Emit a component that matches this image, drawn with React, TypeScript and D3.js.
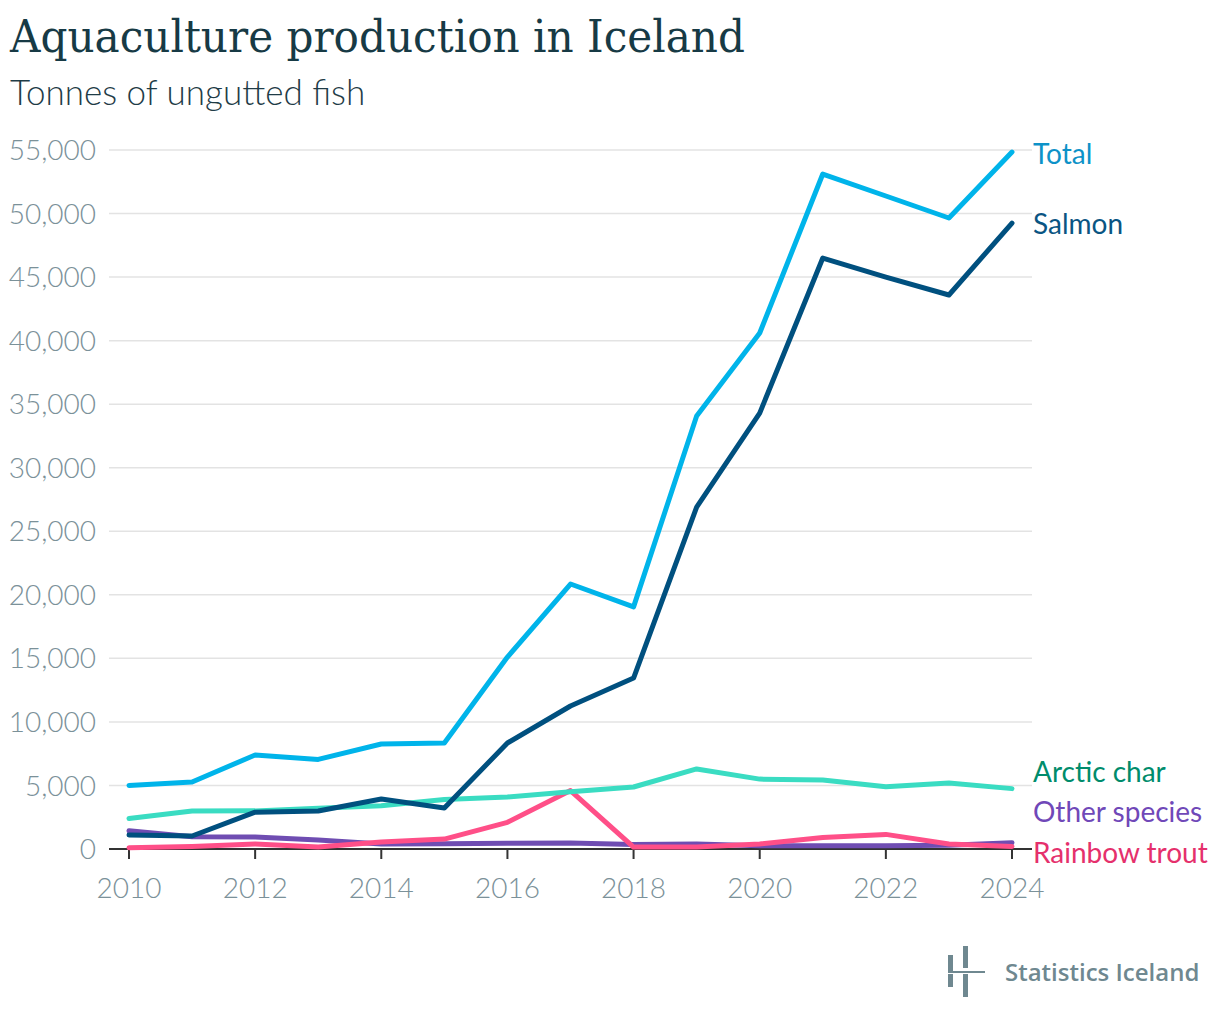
import { useEffect, useRef } from 'react';
import * as d3 from 'd3';

const YEARS = [2010, 2011, 2012, 2013, 2014, 2015, 2016, 2017, 2018, 2019, 2020, 2021, 2022, 2023, 2024];

const TOTAL = [5000, 5270, 7400, 7050, 8260, 8340, 15100, 20850, 19050, 34070, 40600, 53110, 51380, 49650, 54840];
const SALMON = [1100, 1020, 2900, 2990, 3930, 3230, 8340, 11250, 13450, 26900, 34300, 46500, 45000, 43590, 49250];
const ARCTIC_CHAR = [2400, 2990, 3000, 3200, 3400, 3900, 4090, 4500, 4880, 6300, 5500, 5430, 4900, 5200, 4750];
const OTHER_SPECIES = [1440, 970, 940, 700, 390, 420, 450, 470, 350, 390, 250, 250, 260, 300, 500];
const RAINBOW_TROUT = [100, 200, 400, 150, 550, 780, 2100, 4600, 150, 150, 400, 900, 1150, 400, 200];

const Y_TICKS = [0, 5000, 10000, 15000, 20000, 25000, 30000, 35000, 40000, 45000, 50000, 55000];
const X_TICKS = [2010, 2012, 2014, 2016, 2018, 2020, 2022, 2024];

const SERIES = [
  { name: 'Other species', values: OTHER_SPECIES, color: '#6f4db2', labelColor: '#7048b8', labelY: 812 },
  { name: 'Rainbow trout', values: RAINBOW_TROUT, color: '#ff4f88', labelColor: '#e5306c', labelY: 853 },
  { name: 'Arctic char', values: ARCTIC_CHAR, color: '#3adcc2', labelColor: '#008c6c', labelY: 772 },
  { name: 'Salmon', values: SALMON, color: '#00507f', labelColor: '#0a5583', labelY: 224 },
  { name: 'Total', values: TOTAL, color: '#00b4ea', labelColor: '#0d92c8', labelY: 154 },
];

export default function App() {
  const svgRef = useRef<SVGSVGElement>(null);

  useEffect(() => {
    if (!svgRef.current) return;
    const width = 1220;
    const height = 1022;
    const svg = d3.select(svgRef.current);
    svg.selectAll('*').remove();
    svg.attr('viewBox', `0 0 ${width} ${height}`);

    const x = d3.scaleLinear().domain([2010, 2024]).range([129, 1012]);
    const y = d3.scaleLinear().domain([0, 55000]).range([849, 150]);

    // title
    svg.append('text')
      .attr('x', 10).attr('y', 52)
      .attr('font-family', '"DejaVu Serif", serif')
      .attr('font-size', 44)
      .attr('textLength', 735)
      .attr('lengthAdjust', 'spacingAndGlyphs')
      .attr('fill', '#173a45')
      .text('Aquaculture production in Iceland');

    svg.append('text')
      .attr('x', 10).attr('y', 105)
      .attr('font-family', 'Lato, sans-serif')
      .attr('font-weight', 300)
      .attr('font-size', 35)
      .attr('fill', '#1f3c47')
      .text('Tonnes of ungutted fish');

    // grid + y labels
    Y_TICKS.forEach((t) => {
      if (t > 0) {
        svg.append('line')
          .attr('x1', 109).attr('x2', 1032)
          .attr('y1', y(t)).attr('y2', y(t))
          .attr('stroke', '#e3e3e3')
          .attr('stroke-width', 1.5);
      }
      svg.append('text')
        .attr('x', 96).attr('y', y(t))
        .attr('dy', '0.36em')
        .attr('text-anchor', 'end')
        .attr('font-family', 'Lato, sans-serif')
        .attr('font-weight', 300)
        .attr('font-size', 28)
        .attr('fill', '#7b9199')
        .text(d3.format(',')(t));
    });

    // x axis
    svg.append('line')
      .attr('x1', 109).attr('x2', 1032)
      .attr('y1', y(0)).attr('y2', y(0))
      .attr('stroke', '#333')
      .attr('stroke-width', 2);

    X_TICKS.forEach((t) => {
      svg.append('line')
        .attr('x1', x(t)).attr('x2', x(t))
        .attr('y1', y(0)).attr('y2', y(0) + 10)
        .attr('stroke', '#333')
        .attr('stroke-width', 2);
      svg.append('text')
        .attr('x', x(t)).attr('y', 898)
        .attr('text-anchor', 'middle')
        .attr('font-family', 'Lato, sans-serif')
        .attr('font-weight', 300)
        .attr('font-size', 28)
        .attr('fill', '#7b9199')
        .text(String(t));
    });

    const line = d3.line<number>()
      .x((_, i) => x(YEARS[i]))
      .y((d) => y(d));

    SERIES.forEach((s) => {
      svg.append('path')
        .datum(s.values)
        .attr('d', line)
        .attr('fill', 'none')
        .attr('stroke', s.color)
        .attr('stroke-width', 5)
        .attr('stroke-linejoin', 'round')
        .attr('stroke-linecap', 'round');

      svg.append('text')
        .attr('x', 1033).attr('y', s.labelY)
        .attr('dy', '0.36em')
        .attr('font-family', 'Lato, sans-serif')
        .attr('font-size', 28)
        .attr('fill', s.labelColor)
        .text(s.name);
    });

    // logo
    const logo = svg.append('g').attr('fill', '#6f8890');
    logo.append('rect').attr('x', 948).attr('y', 955).attr('width', 5).attr('height', 16);
    logo.append('rect').attr('x', 948).attr('y', 974).attr('width', 5).attr('height', 13);
    logo.append('rect').attr('x', 963).attr('y', 946).attr('width', 5).attr('height', 22);
    logo.append('rect').attr('x', 963).attr('y', 974).attr('width', 5).attr('height', 23);
    logo.append('rect').attr('x', 948).attr('y', 971).attr('width', 37).attr('height', 2);
    svg.append('text')
      .attr('x', 1005).attr('y', 981)
      .attr('font-family', '"Open Sans", sans-serif')
      .attr('font-weight', 600)
      .attr('font-size', 24)
      .attr('fill', '#6f8890')
      .text('Statistics Iceland');
  }, []);

  return <svg ref={svgRef} width={1220} height={1022} style={{ display: 'block', margin: -8 }} />;
}
